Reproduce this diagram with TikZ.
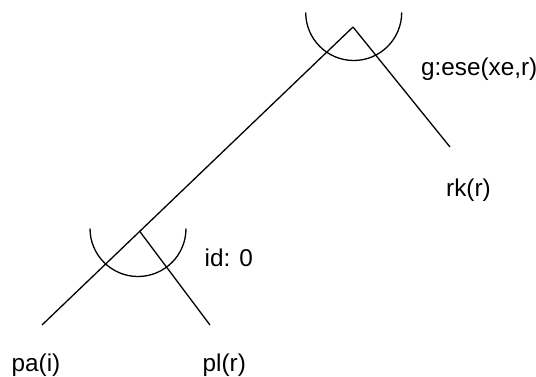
\documentclass[tikz,border=0pt]{standalone}
\usepackage{fontspec}
\setmainfont{Liberation Sans}
\begin{document}
\begin{tikzpicture}[x=1pt,y=1pt,
  edge/.style={line width=1.3pt},
  lbl/.style={anchor=base west,inner sep=0pt,font=\fontsize{24.3}{29}\selectfont}]
\useasboundingbox (0,0) rectangle (536,-376);
% joints
\coordinate (top) at (353,-27);
\coordinate (bot) at (139.5,-231);
\coordinate (leftend) at (42,-325);
\coordinate (botright) at (210,-325);
\coordinate (topright) at (450,-147);
% connectors
\draw[edge] (leftend) -- (top);
\draw[edge] (top) -- (topright);
\draw[edge] (bot) -- (botright);
% arcs
\draw[edge] (305.7,-12.5) arc[start angle=180,end angle=360,radius=48];
\draw[edge] (90,-228.5) arc[start angle=180,end angle=360,radius=48];
% labels
\node[lbl] (g) at (421,-75.5) {g:ese(xe,r)};
\node[lbl] (rk) at (446,-196.5) {rk(r)};
\node[lbl] (id) at (204.5,-266.5) {id: 0};
\node[lbl] (pa) at (11.5,-371.5) {pa(i)};
\node[lbl] (pl) at (202.5,-371.5) {pl(r)};
\end{tikzpicture}
\end{document}
